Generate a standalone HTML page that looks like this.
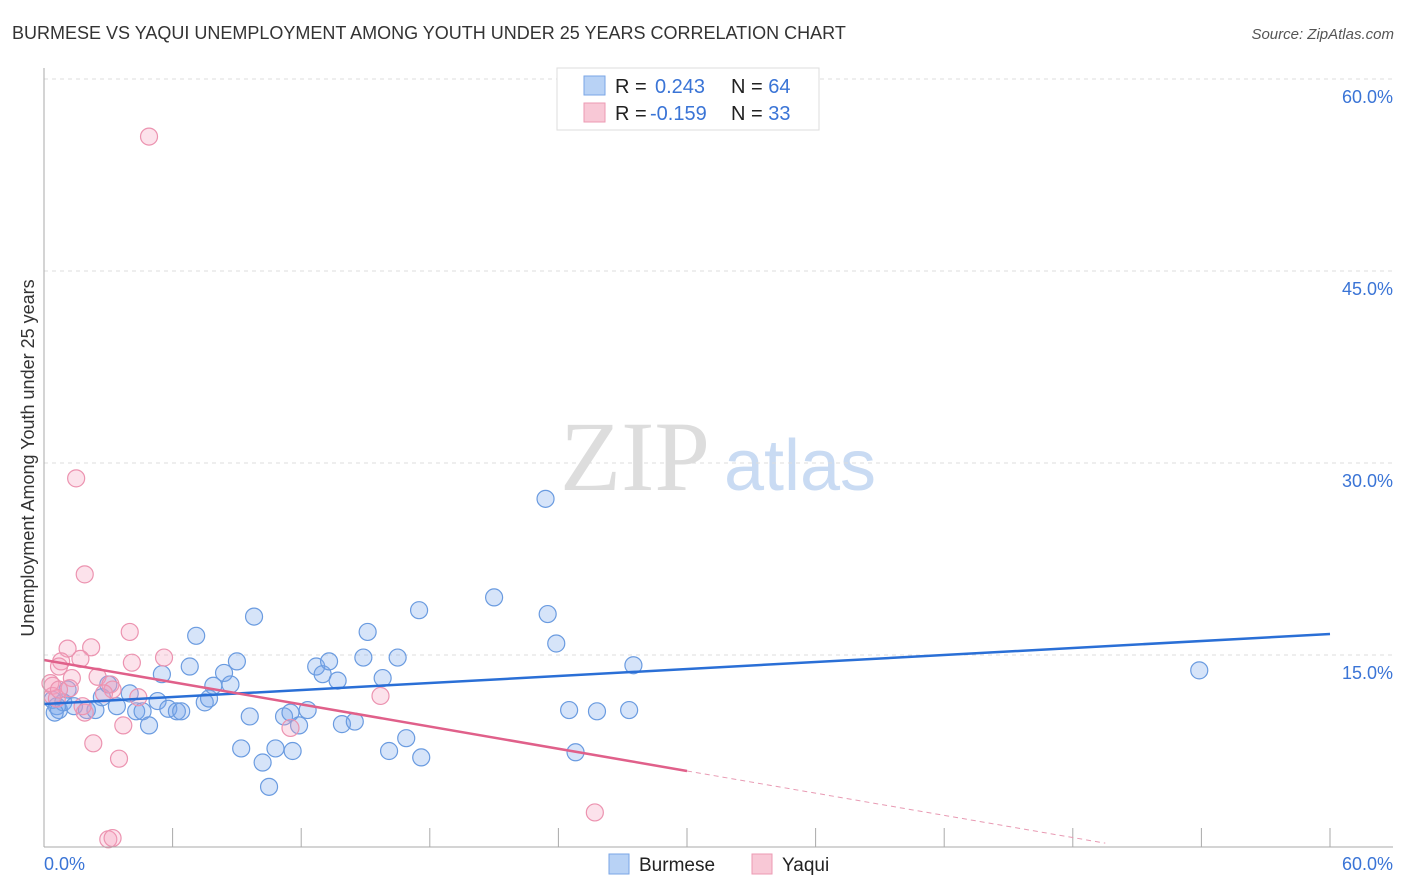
<!DOCTYPE html>
<html><head><meta charset="utf-8"><style>
body{margin:0;background:#fff;font-family:"Liberation Sans",sans-serif;}
#c{position:relative;width:1406px;height:892px;overflow:hidden}
</style></head><body><div id="c">
<svg id="s" width="1406" height="892" xmlns="http://www.w3.org/2000/svg" style="position:absolute;left:0;top:0">
<text x="12" y="39" font-size="18" fill="#333">BURMESE VS YAQUI UNEMPLOYMENT AMONG YOUTH UNDER 25 YEARS CORRELATION CHART</text>
<text x="1394" y="39" font-size="15" fill="#555" font-style="italic" text-anchor="end">Source: ZipAtlas.com</text>
<text x="34" y="458" font-size="18" fill="#333" text-anchor="middle" transform="rotate(-90 34 458)">Unemployment Among Youth under 25 years</text>
<g><text x="635" y="490" font-size="100" fill="#ddd" font-family="Liberation Serif,serif" text-anchor="middle">ZIP</text><text x="800" y="490" font-size="72" fill="#c9dbf3" text-anchor="middle">atlas</text></g>
<g id="grid"></g><g id="pts"></g><g id="lines"></g>
<line x1="44" y1="68" x2="44" y2="847" stroke="#aaa"/>
<line x1="44" y1="847" x2="1393" y2="847" stroke="#aaa"/>
<text x="44" y="870" font-size="18" fill="#3a74d6">0.0%</text>
<text x="1393" y="870" font-size="18" fill="#3a74d6" text-anchor="end">60.0%</text>
<g>
<rect x="557" y="68" width="262" height="62" fill="#fff" stroke="#ddd"/>
<rect x="584" y="76" width="21" height="19" fill="#b8d2f5" stroke="#7aa6e6"/>
<rect x="584" y="103" width="21" height="19" fill="#f8c8d6" stroke="#ec9ab3"/>
<text x="615" y="93" font-size="20" fill="#222">R = <tspan fill="#3a74d6" x="655">0.243</tspan><tspan x="731">N = </tspan><tspan fill="#3a74d6">64</tspan></text>
<text x="615" y="120" font-size="20" fill="#222">R = <tspan fill="#3a74d6" x="650">-0.159</tspan><tspan x="731">N = </tspan><tspan fill="#3a74d6">33</tspan></text>
</g>
<g>
<rect x="609" y="854" width="20" height="20" fill="#b8d2f5" stroke="#7aa6e6"/>
<text x="639" y="871" font-size="19" fill="#222">Burmese</text>
<rect x="752" y="854" width="20" height="20" fill="#f8c8d6" stroke="#ec9ab3"/>
<text x="782" y="871" font-size="19" fill="#222">Yaqui</text>
</g>
</svg></div>
<script>
const yTicks=[15,30,45,60];
const xTickVals=[0,6,12,18,24,30,36,42,48,54,60];
const burmeseX=[0.6,0.4,0.7,1.1,0.9,1.4,2.0,2.4,2.7,3.0,3.4,4.0,4.3,4.6,4.9,5.3,5.5,5.8,6.2,6.4,6.8,7.1,7.5,7.7,7.9,8.4,8.7,9.0,9.2,9.6,9.8,10.2,10.5,10.8,11.2,11.5,11.6,11.9,12.3,12.7,13.0,13.3,13.7,13.9,14.5,14.9,15.1,15.8,16.1,16.5,16.9,17.5,17.6,21.0,23.4,23.5,23.9,24.5,24.8,25.8,27.3,27.5,53.9,0.5];
const burmeseY=[11.0,11.5,10.7,12.3,11.3,11.0,10.7,10.7,11.7,12.7,11.0,12.0,10.6,10.6,9.5,11.4,13.5,10.8,10.6,10.6,14.1,16.5,11.3,11.6,12.6,13.6,12.7,14.5,7.7,10.2,18.0,6.6,4.7,7.7,10.2,10.5,7.5,9.5,10.7,14.1,13.5,14.5,13.0,9.6,9.8,14.8,16.8,13.2,7.5,14.8,8.5,18.5,7.0,19.5,27.2,18.2,15.9,10.7,7.4,10.6,10.7,14.2,13.8,10.5];
const yaquiX=[4.9,1.5,1.9,1.1,2.2,4.0,5.6,4.1,0.8,1.7,0.7,2.5,1.3,1.2,0.4,0.4,0.6,3.1,4.4,3.2,1.9,2.3,3.5,3.7,11.5,15.7,25.7,3.0,3.2,0.3,2.8,1.8,0.7];
const yaquiY=[55.5,28.8,21.3,15.5,15.6,16.8,14.8,14.4,14.5,14.7,14.1,13.3,13.2,12.4,12.6,11.8,11.6,12.7,11.7,12.3,10.5,8.1,6.9,9.5,9.3,11.8,2.7,0.6,0.7,12.8,12.0,11.0,12.3];
const burmeseTrend=[11.17,16.64];
const yaquiTrend=[14.61,5.94,0.3];
const NS='http://www.w3.org/2000/svg';
const X=v=>44+v*1286/60, Y=v=>847-v*12.8;
function mk(t,a,p){const e=document.createElementNS(NS,t);for(const k in a)e.setAttribute(k,a[k]);p.appendChild(e);return e;}
const g=document.getElementById('grid');
yTicks.forEach(v=>{
 const l=mk('line',{x1:44,x2:1393,y1:Y(v),y2:Y(v),stroke:'#ddd','stroke-dasharray':'4 4'},g);
 
 
 const t=mk('text',{x:1393,y:Y(v)+24,'font-size':18,fill:'#3a74d6','text-anchor':'end'},g);
 t.textContent=v.toFixed(1)+'%';
 
 
});
xTickVals.forEach(v=>{
 const l=mk('line',{x1:X(v),x2:X(v),y1:828,y2:847,stroke:'#aaa'},g);
 
 
});
const p=document.getElementById('pts');
burmeseX.forEach((x,i)=>{
 const c=mk('circle',{cx:X(x),cy:Y(burmeseY[i]),r:8.5,fill:'rgba(120,165,235,0.3)',stroke:'#6a9be0','stroke-width':1.2},p);
 
 
});
yaquiX.forEach((x,i)=>{
 const c=mk('circle',{cx:X(x),cy:Y(yaquiY[i]),r:8.5,fill:'rgba(245,160,190,0.3)',stroke:'#ec93b0','stroke-width':1.2},p);
 
 
});
const L=document.getElementById('lines');
const b=mk('line',{x1:X(0),y1:Y(burmeseTrend[0]),x2:X(60),y2:Y(burmeseTrend[1]),stroke:'#2a6fd6','stroke-width':2.5},L);


const y1=mk('line',{x1:X(0),y1:Y(yaquiTrend[0]),x2:X(30),y2:Y(yaquiTrend[1]),stroke:'#e0608a','stroke-width':2.5},L);


const slope=(yaquiTrend[1]-yaquiTrend[0])/30, xe=(yaquiTrend[2]-yaquiTrend[0])/slope;
const y2=mk('line',{x1:X(30),y1:Y(yaquiTrend[1]),x2:X(xe),y2:Y(yaquiTrend[2]),stroke:'#e89ab3','stroke-width':1,'stroke-dasharray':'5 4'},L);


</script></body></html>
